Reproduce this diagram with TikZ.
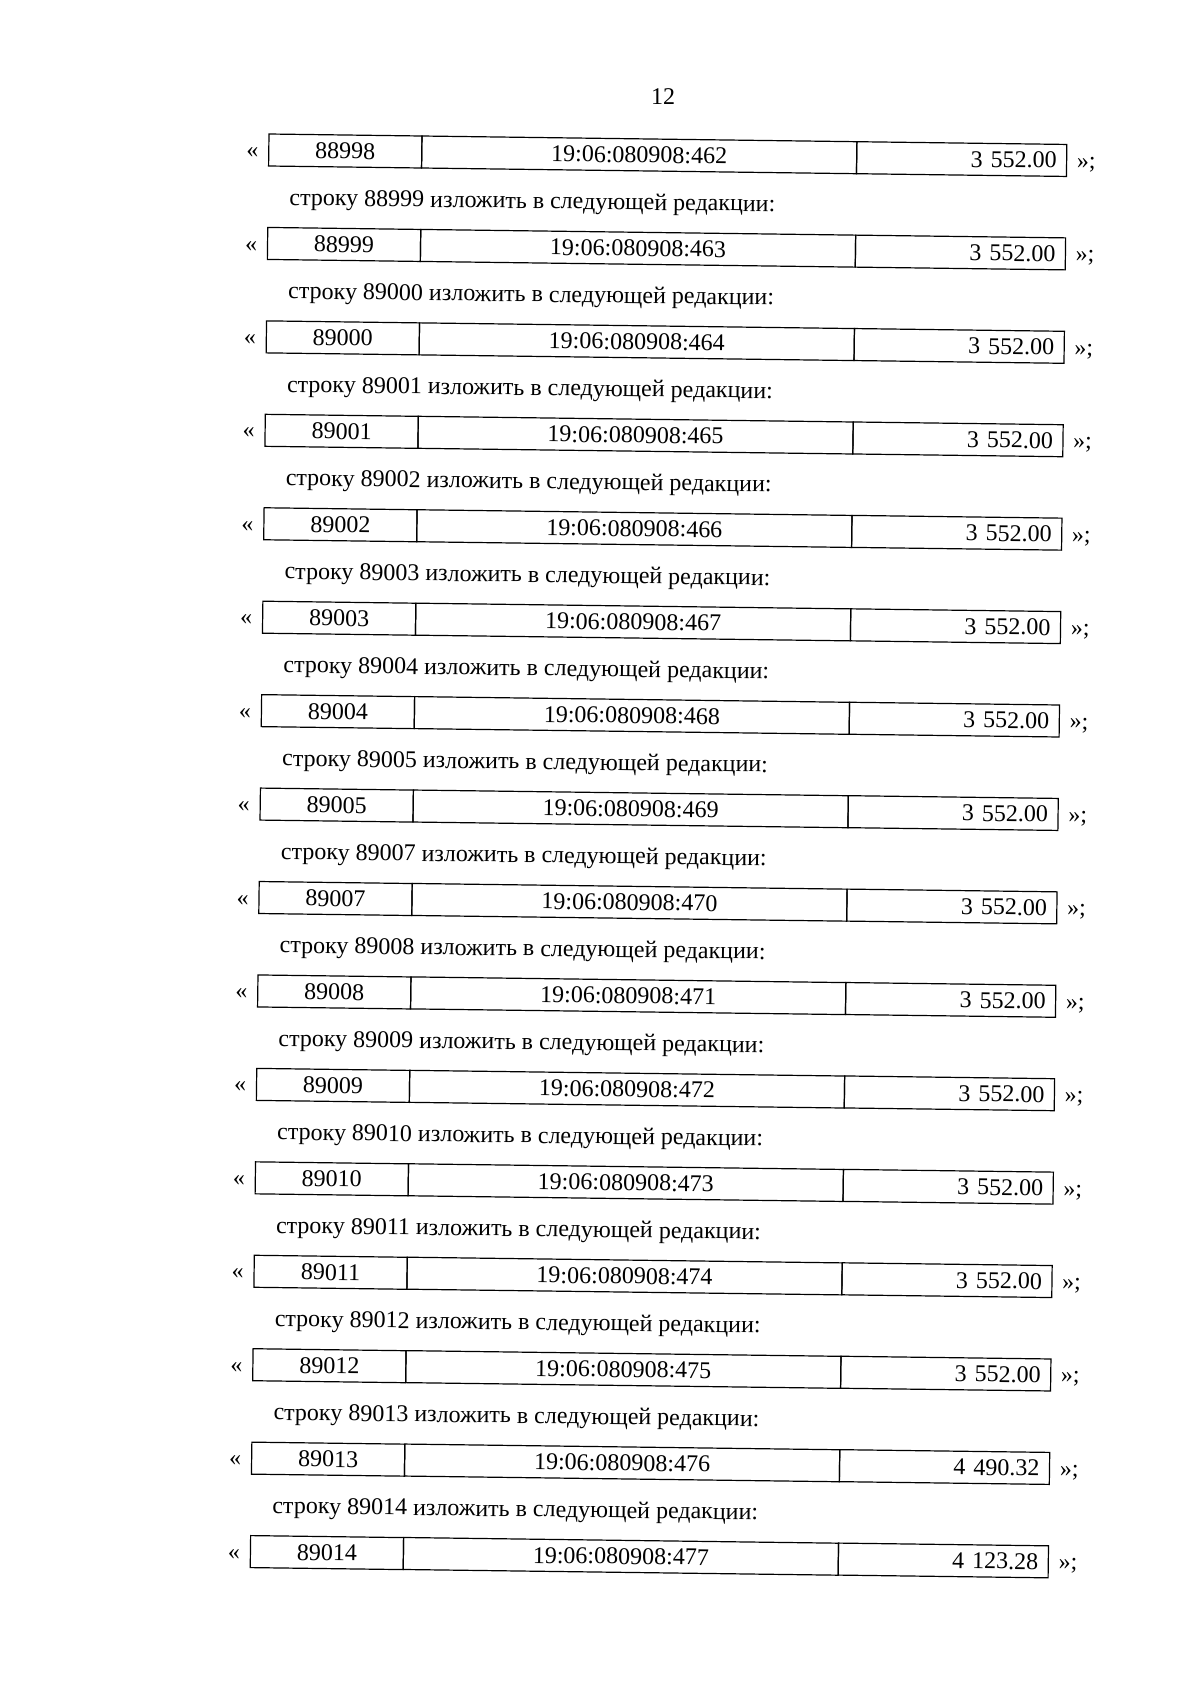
\documentclass[tikz,border=0pt]{standalone}
\usepackage{fontspec}
\setmainfont{Liberation Serif}
\usetikzlibrary{positioning}

\tikzset{
  txt/.style={font=\fontsize{12}{14}\selectfont, inner sep=0pt},
  cell/.style={txt, draw, line width=0.6pt, rectangle, outer sep=0pt,
               minimum height=16pt},
  numcell/.style={cell, text width=76.5pt, align=center},
  cadcell/.style={cell, text width=217.5pt, align=center},
  sumcell/.style={cell, text width=95pt, inner xsep=5pt, align=right}
}

\begin{document}
\begin{tikzpicture}[x=0.5pt, y=-0.5pt]
\useasboundingbox (0,0) rectangle (1200,1698);

\node[txt] (page) at (663,97) {12};

\begin{scope}[shift={(269,134)}, rotate=-0.75, transform shape]
\foreach \n/\k/\v [count=\i from 0] in {
    88998/462/{3 552.00}, 88999/463/{3 552.00}, 89000/464/{3 552.00},
    89001/465/{3 552.00}, 89002/466/{3 552.00}, 89003/467/{3 552.00},
    89004/468/{3 552.00}, 89005/469/{3 552.00}, 89007/470/{3 552.00},
    89008/471/{3 552.00}, 89009/472/{3 552.00}, 89010/473/{3 552.00},
    89011/474/{3 552.00}, 89012/475/{3 552.00}, 89013/476/{4 490.32},
    89014/477/{4 123.28}}
{
    \node[numcell, anchor=north west] (num-\i) at (0,{\i*93.45}) {\n};
    \node[cadcell, right=0pt of num-\i] (cad-\i) {19:06:080908:\k};
    \node[sumcell, right=0pt of cad-\i] (sum-\i) {\v};
    \node[txt, anchor=base east] (lq-\i) at ([xshift=-5pt]num-\i.base west) {«};
    \node[txt, anchor=base west] (rq-\i) at ([xshift=5pt]sum-\i.base east) {»;};
    % line above each new row
    \ifnum\i>0
      \node[txt, anchor=base west] (line-\i) at (21,{\i*93.45-22.5})
        {строку \n\ изложить в следующей редакции:};
    \fi
}
\end{scope}
\end{tikzpicture}
\end{document}
